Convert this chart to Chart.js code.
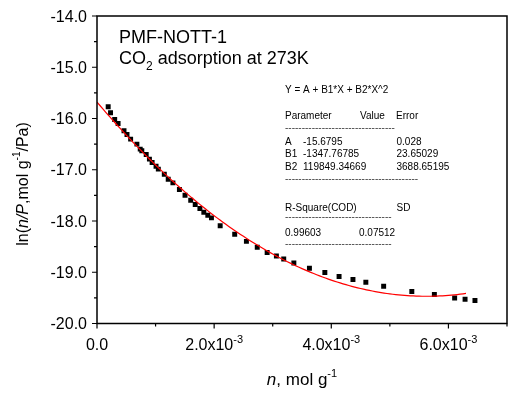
<!DOCTYPE html>
<html>
<head>
<meta charset="utf-8">
<script src="https://cdn.jsdelivr.net/npm/chart.js@4.4.1/dist/chart.umd.min.js"></script>
<style>
  html, body { margin: 0; padding: 0; background: #fff; }
  canvas { display: block; }
</style>
</head>
<body>
<canvas id="chart" width="511" height="395"></canvas>
<script>
// Adsorbed amount n (mol/g) and ln(n/P) for CO2 on PMF-NOTT-1 at 273 K
const nAdsorbed = [
  0.000191, 0.000231, 0.000302, 0.000360, 0.000461, 0.000512, 0.000574, 0.000681,
  0.000738, 0.000765, 0.000840, 0.000895, 0.000941, 0.001008, 0.001047, 0.001149,
  0.001216, 0.001296, 0.001407, 0.001503, 0.001600, 0.001677, 0.001757, 0.001824,
  0.001892, 0.001954, 0.002103, 0.002351, 0.002551, 0.002736, 0.002905, 0.003063,
  0.003188, 0.003361, 0.003627, 0.003890, 0.004133, 0.004370, 0.004590, 0.004894,
  0.005375, 0.005760, 0.006106, 0.006284, 0.006453
];
const lnNP = [
  -15.771, -15.889, -16.018, -16.096, -16.240, -16.311, -16.402, -16.500,
  -16.598, -16.631, -16.701, -16.793, -16.857, -16.930, -16.988, -17.086,
  -17.184, -17.256, -17.385, -17.496, -17.594, -17.678, -17.756, -17.828,
  -17.887, -17.939, -18.092, -18.258, -18.398, -18.512, -18.613, -18.684,
  -18.742, -18.818, -18.922, -19.006, -19.084, -19.143, -19.195, -19.273,
  -19.377, -19.436, -19.504, -19.527, -19.551
];

// Quadratic fit Y = A + B1*X + B2*X^2 (values and errors as reported)
const paramNames  = ['A', 'B1', 'B2'];
const paramValues = ['-15.6795', '-1347.76785', '119849.34669'];
const paramErrors = ['0.028', '23.65029', '3688.65195'];
const rSquare = '0.99603';
const fitSD = '0.07512';
const fitRange = [0, 0.0063];
const fitSteps = 126;

// Axis ticks
const yTickValues = [-20, -19, -18, -17, -16, -15, -14];
const xTickValues = [0, 0.002, 0.004, 0.006];
const xTickMantissa = ['0.0', '2.0', '4.0', '6.0'];

const FONT = '"Liberation Sans", Arial, sans-serif';
const font = (size, style) => (style ? style + ' ' : '') + size + 'px ' + FONT;

const points = nAdsorbed.map((n, i) => ({ x: n, y: lnNP[i] }));

const [A, B1, B2] = paramValues.map(Number);
const fitPoints = [];
for (let i = 0; i <= fitSteps; i++) {
  const x = fitRange[0] + (fitRange[1] - fitRange[0]) * i / fitSteps;
  fitPoints.push({ x, y: A + B1 * x + B2 * x * x });
}

function drawRuns(ctx, runs, x, y, align) {
  let w = 0;
  runs.forEach(r => { ctx.font = r.font; w += ctx.measureText(r.text).width; });
  let cx = align === 'center' ? x - w / 2 : align === 'right' ? x - w : x;
  runs.forEach(r => {
    ctx.font = r.font;
    ctx.fillText(r.text, cx, y + (r.dy || 0));
    cx += ctx.measureText(r.text).width;
  });
}

const originFrame = {
  id: 'originFrame',
  afterDraw(chart) {
    const { ctx, chartArea: ca, scales: { x: xs, y: ys } } = chart;
    ctx.save();
    ctx.strokeStyle = '#000';
    ctx.fillStyle = '#000';
    ctx.lineWidth = 1.5;
    ctx.beginPath();
    ctx.rect(ca.left, ca.top, ca.right - ca.left, ca.bottom - ca.top);
    ctx.stroke();

    // y ticks: major every 1.0, minor every 0.5, pointing outward
    ctx.lineWidth = 1.2;
    ctx.beginPath();
    for (let v = -20; v <= -14 + 1e-9; v += 0.5) {
      const py = ys.getPixelForValue(v);
      const len = Number.isInteger(v) ? 5 : 3;
      ctx.moveTo(ca.left, py);
      ctx.lineTo(ca.left - len, py);
    }
    // x ticks: major every 2e-3, minor every 1e-3
    for (let k = 0; k <= 7; k++) {
      const px = xs.getPixelForValue(k * 0.001);
      const len = k % 2 === 0 ? 5 : 3;
      ctx.moveTo(px, ca.bottom);
      ctx.lineTo(px, ca.bottom + len);
    }
    ctx.stroke();

    ctx.textAlign = 'left';
    ctx.textBaseline = 'alphabetic';

    // y tick labels
    yTickValues.forEach(v => {
      const py = ys.getPixelForValue(v);
      drawRuns(ctx, [{ text: v.toFixed(1), font: font(16) }], ca.left - 10, py + 5.5, 'right');
    });
    // x tick labels
    xTickValues.forEach((v, i) => {
      const px = xs.getPixelForValue(v);
      const runs = v === 0
        ? [{ text: xTickMantissa[i], font: font(16) }]
        : [{ text: xTickMantissa[i] + 'x10', font: font(16) },
           { text: '-3', font: font(11), dy: -7 }];
      drawRuns(ctx, runs, px, 350, 'center');
    });

    // axis titles
    drawRuns(ctx, [
      { text: 'n', font: font(17, 'italic') },
      { text: ', mol g', font: font(17) },
      { text: '-1', font: font(11), dy: -8 }
    ], (ca.left + ca.right) / 2, 385, 'center');

    ctx.save();
    ctx.translate(28, 184);
    ctx.rotate(-Math.PI / 2);
    drawRuns(ctx, [
      { text: 'ln(', font: font(16) },
      { text: 'n/P', font: font(16, 'italic') },
      { text: ',mol g', font: font(16) },
      { text: '-1', font: font(10), dy: -8 },
      { text: '/Pa)', font: font(16) }
    ], 0, 0, 'center');
    ctx.restore();

    // sample caption
    drawRuns(ctx, [{ text: 'PMF-NOTT-1', font: font(18) }], 119, 43, 'left');
    drawRuns(ctx, [
      { text: 'CO', font: font(18) },
      { text: '2', font: font(12), dy: 6 },
      { text: ' adsorption at 273K', font: font(18) }
    ], 119, 64, 'left');

    // fit report
    const f10 = font(10);
    const dashes = n => '-'.repeat(n);
    drawRuns(ctx, [{ text: 'Y = A + B1*X + B2*X^2', font: f10 }], 285, 92.5, 'left');
    drawRuns(ctx, [{ text: 'Parameter', font: f10 }], 285, 118.5, 'left');
    drawRuns(ctx, [{ text: 'Value', font: f10 }], 360, 118.5, 'left');
    drawRuns(ctx, [{ text: 'Error', font: f10 }], 396, 118.5, 'left');
    ctx.fillStyle = '#444';
    drawRuns(ctx, [{ text: dashes(33), font: f10 }], 285, 131, 'left');
    ctx.fillStyle = '#000';
    const rowY = [144.5, 157, 169.5];
    paramNames.forEach((name, i) => {
      drawRuns(ctx, [{ text: name, font: f10 }], 285, rowY[i], 'left');
      drawRuns(ctx, [{ text: paramValues[i], font: f10 }], 303, rowY[i], 'left');
      drawRuns(ctx, [{ text: paramErrors[i], font: f10 }], 396.5, rowY[i], 'left');
    });
    ctx.fillStyle = '#444';
    drawRuns(ctx, [{ text: dashes(40), font: f10 }], 285, 182, 'left');
    ctx.fillStyle = '#000';
    drawRuns(ctx, [{ text: 'R-Square(COD)', font: f10 }], 285, 210.5, 'left');
    drawRuns(ctx, [{ text: 'SD', font: f10 }], 396.5, 210.5, 'left');
    ctx.fillStyle = '#444';
    drawRuns(ctx, [{ text: dashes(32), font: f10 }], 285, 220, 'left');
    ctx.fillStyle = '#000';
    drawRuns(ctx, [{ text: rSquare, font: f10 }], 285, 235.5, 'left');
    drawRuns(ctx, [{ text: fitSD, font: f10 }], 359, 235.5, 'left');
    ctx.fillStyle = '#444';
    drawRuns(ctx, [{ text: dashes(32), font: f10 }], 285, 247, 'left');
    ctx.restore();
  }
};

new Chart(document.getElementById('chart'), {
  type: 'scatter',
  data: {
    datasets: [
      {
        type: 'line',
        data: fitPoints,
        borderColor: '#ff0000',
        borderWidth: 1.2,
        pointRadius: 0,
        fill: false,
        tension: 0,
        order: 0
      },
      {
        data: points,
        pointStyle: 'rect',
        pointRadius: 3.5,
        backgroundColor: '#000',
        borderWidth: 0,
        order: 1
      }
    ]
  },
  options: {
    responsive: false,
    animation: false,
    events: [],
    layout: { padding: { left: 97, top: 16, right: 0, bottom: 71.5 } },
    plugins: { legend: { display: false }, tooltip: { enabled: false } },
    scales: {
      x: { type: 'linear', min: 0, max: 0.007, display: false },
      y: { type: 'linear', min: -20, max: -14, display: false }
    }
  },
  plugins: [originFrame]
});
</script>
</body>
</html>
